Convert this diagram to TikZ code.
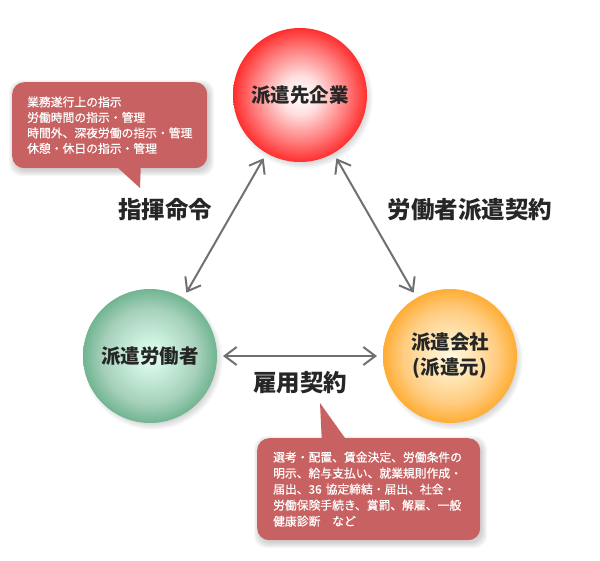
\documentclass[tikz,border=0pt]{standalone}
\usepackage{fontspec}
\setmainfont{Noto Sans CJK JP}
\newfontfamily\jpmed{Noto Sans CJK JP}[FakeBold=0.7]
\usetikzlibrary{arrows.meta}
\definecolor{arrowgray}{RGB}{112,112,112}
\definecolor{notered}{RGB}{200,98,98}
\definecolor{ballred}{RGB}{255,0,0}
\definecolor{ballgreen}{RGB}{58,152,104}
\definecolor{greencore}{RGB}{228,255,242}
\definecolor{ballorange}{RGB}{255,152,0}
\definecolor{orangecore}{RGB}{255,248,222}
\pgfdeclareradialshading{redball}{\pgfpoint{0bp}{0bp}}{color(0bp)=(white); color(7bp)=(ballred!12!white); color(17.7bp)=(ballred!52!white); color(27bp)=(ballred!90!white); color(35.4bp)=(ballred); color(50bp)=(ballred)}
\pgfdeclareradialshading{greenball}{\pgfpoint{0bp}{0bp}}{color(0bp)=(greencore); color(7bp)=(greencore!85!ballgreen); color(17.7bp)=(ballgreen!45!white); color(27bp)=(ballgreen!80!white); color(35.4bp)=(ballgreen); color(50bp)=(ballgreen)}
\pgfdeclareradialshading{orangeball}{\pgfpoint{0bp}{0bp}}{color(0bp)=(orangecore); color(7bp)=(orangecore!85!ballorange); color(17.7bp)=(ballorange!50!white); color(27bp)=(ballorange!88!white); color(35.4bp)=(ballorange); color(50bp)=(ballorange)}
\newcommand\ballshadow[2]{\foreach \k in {0,...,6}{\fill[black,opacity=0.035] (#1+3,#2+4) circle ({60+\k*1.6});}}
\newcommand\boxshadow[4]{\foreach \k in {0,...,5}{\fill[black,opacity=0.03,rounded corners=12pt] (#1-\k+2,#2-\k+3) rectangle (#3+\k+2,#4+\k+3);}}
\begin{document}
\begin{tikzpicture}[x=1pt,y=-1pt,
  ball/.style={circle,minimum size=134pt,inner sep=0pt,outer sep=6pt,
    font=\bfseries\fontsize{19.5}{25}\selectfont,text=black!85,align=center},
  arr/.style={draw=arrowgray,line width=2pt,
    {Straight Barb[length=12pt,width=18pt]}-{Straight Barb[length=12pt,width=18pt]}},
  lab/.style={font=\bfseries\fontsize{23.5}{26}\selectfont,text=black!85,inner sep=0pt},
  note/.style={fill=notered,rounded corners=12pt,text=white,align=left,inner ysep=0pt,anchor=north west}]
\useasboundingbox (0,0) rectangle (600,560);
% shadows
\ballshadow{300}{95}
\ballshadow{150}{356}
\ballshadow{450}{356}
\boxshadow{12}{82}{207}{168}
\boxshadow{257}{438}{480}{540}
% balls
\node[ball,shading=redball] (red) at (300,95) {派遣先企業};
\node[ball,shading=greenball] (green) at (150,356) {派遣労働者};
\node[ball,shading=orangeball] (orange) at (450,356) {派遣会社\\(派遣元)};
% arrows
\draw[arr] (red) -- (green);
\draw[arr] (red) -- (orange);
\draw[arr] (green) -- (orange);
% labels
\node[lab] (l1) at (165,210) {指揮命令};
\node[lab] (l2) at (470,210) {労働者派遣契約};
\node[lab] (l3) at (300,383) {雇用契約};
% callouts
\fill[notered] (117,160) -- (117,167) -- (140,188) -- (141,160) -- cycle;
\node[note,text width=165pt,inner xsep=15pt,minimum height=86pt,
  font=\jpmed\fontsize{11.8}{15.5}\selectfont] (note1) at (12,82)
  {業務遂行上の指示\\労働時間の指示・管理\\時間外、深夜労働の指示・管理\\休憩・休日の指示・管理};
\fill[notered] (320,403) -- (345,438) -- (345,445) -- (322,445) -- cycle;
\node[note,text width=191pt,inner xsep=16pt,minimum height=102pt,
  font=\jpmed\fontsize{11.8}{16}\selectfont] (note2) at (257,438)
  {選考・配置、賃金決定、労働条件の\\明示、給与支払い、就業規則作成・\\届出、36 協定締結・届出、社会・\\労働保険手続き、賞罰、解雇、一般\\健康診断　など};
\end{tikzpicture}
\end{document}
